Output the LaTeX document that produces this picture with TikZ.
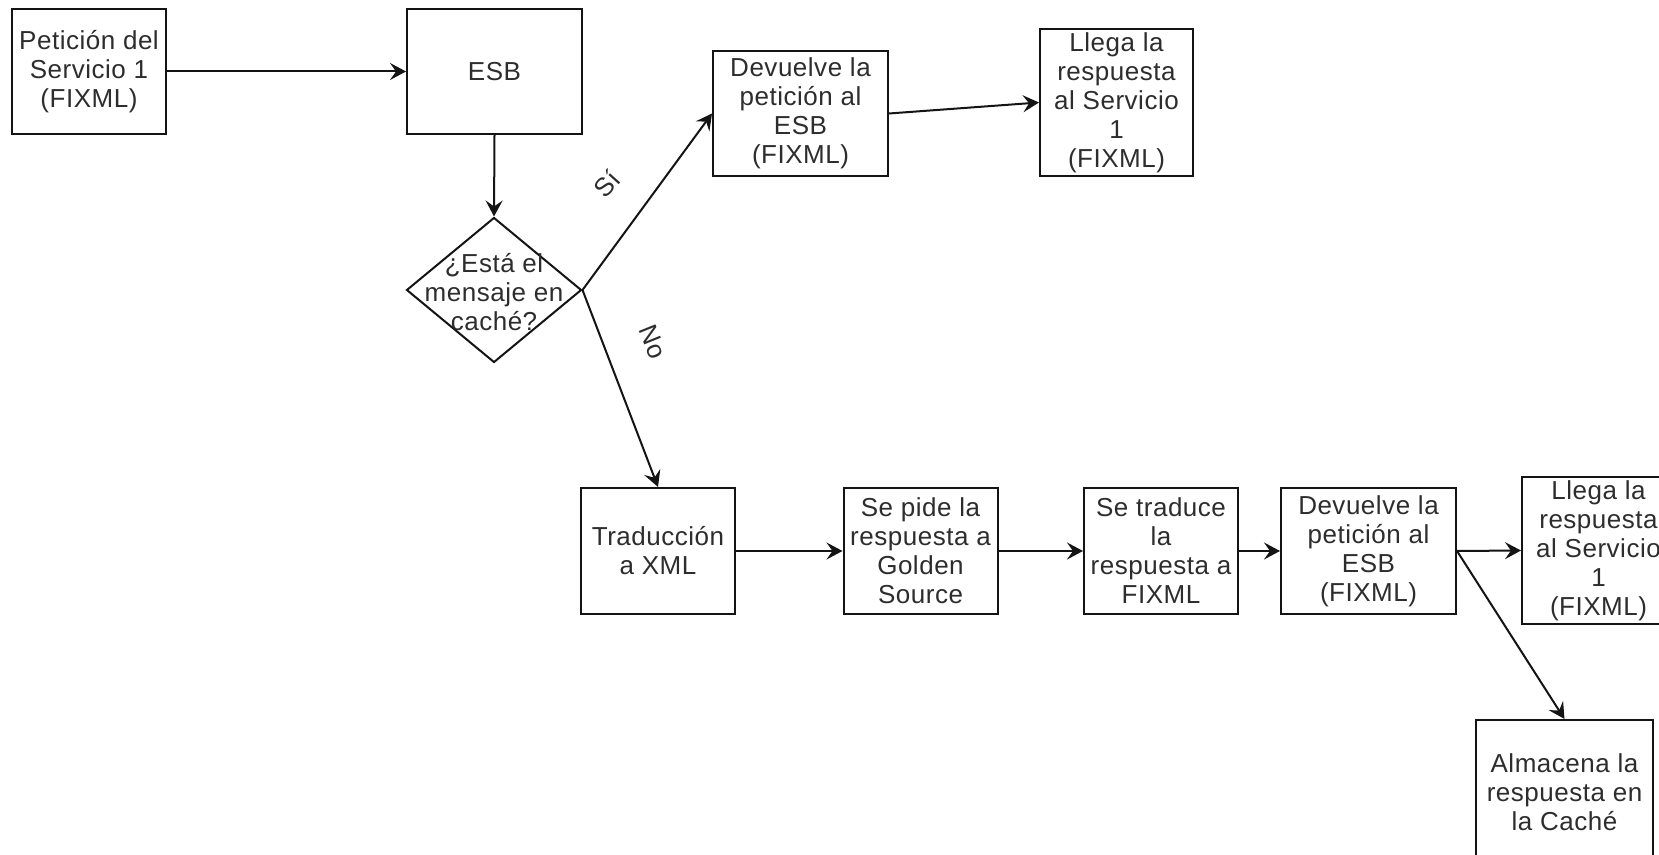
\documentclass[tikz,border=0pt]{standalone}
\usepackage{fontspec}
\setmainfont{Liberation Sans}[LetterSpace=2]
\usetikzlibrary{arrows.meta,shapes.geometric}
\definecolor{inkline}{RGB}{20,20,20}
\definecolor{inktext}{RGB}{45,45,45}
\begin{document}
\begin{tikzpicture}[
  x=0.5pt, y=-0.5pt,
  every node/.style={font=\fontsize{13pt}{14.5pt}\selectfont, text=inktext, align=center, inner sep=0pt},
  stepbox/.style={draw=inkline, line width=1pt, rectangle, minimum width=#1},
  stepbox/.default=77pt,
  decision/.style={draw=inkline, line width=1pt, shape=diamond, aspect=1.207, minimum width=87.5pt, minimum height=72.5pt},
  flow/.style={draw=inkline, line width=1pt, -{Stealth[length=8pt,width=8.5pt,inset=3pt]}},
  branch/.style={font=\fontsize{13pt}{14.5pt}\selectfont}
]
\useasboundingbox (0,0) rectangle (1659,855);
\clip (0,0) rectangle (1659,855);

% upper row
\node[stepbox=77pt, minimum height=62.5pt] (req) at (89,71.5) {Petición del\\Servicio 1\\(FIXML)};
\node[stepbox=87.5pt, minimum height=62.5pt] (esb) at (494.5,71.5) {ESB};
\node[decision] (dec) at (494,290) {};
\node (dectext) at (494,292) {¿Está el\\mensaje en\\caché?};
\node[stepbox=87.5pt, minimum height=62.5pt] (ret1) at (800.5,113.5) {Devuelve la\\petición al\\ESB\\(FIXML)};
\node[stepbox=76.5pt, minimum height=73.5pt] (arr1) at (1116.5,102.5) {Llega la\\respuesta\\al Servicio\\1\\(FIXML)};

% lower row
\node[stepbox=77pt, minimum height=63pt] (xml) at (658,551) {Traducción\\a XML};
\node[stepbox=77pt, minimum height=63pt] (gold) at (920.5,551) {Se pide la\\respuesta a\\Golden\\Source};
\node[stepbox=77pt, minimum height=63pt] (back) at (1161,551) {Se traduce\\la\\respuesta a\\FIXML};
\node[stepbox=87.5pt, minimum height=63pt] (ret2) at (1368.5,551) {Devuelve la\\petición al\\ESB\\(FIXML)};
\node[stepbox=76.5pt, minimum height=73.5pt] (arr2) at (1598.5,550.5) {Llega la\\respuesta\\al Servicio\\1\\(FIXML)};
\node[stepbox=88.5pt, minimum height=72pt] (cache) at (1564.5,792) {Almacena la\\respuesta en\\la Caché};

% connectors
\draw[flow] (req.east) -- (esb.west);
\draw[flow] (esb.south) -- (dec.north);
\draw[flow] (dec.east) -- (ret1.west);
\draw[flow] (dec.east) -- (xml.north);
\draw[flow] (ret1.east) -- (arr1.west);
\draw[flow] (xml.east) -- (gold.west);
\draw[flow] (gold.east) -- (back.west);
\draw[flow] (back.east) -- (ret2.west);
\draw[flow] (ret2.east) -- (arr2.west);
\draw[flow] (ret2.east) -- (cache.north);

% branch labels
\node[branch, rotate=48] (yes) at (607,184) {Sí};
\node[branch, rotate=-68] (no) at (653,342) {No};
\end{tikzpicture}
\end{document}
